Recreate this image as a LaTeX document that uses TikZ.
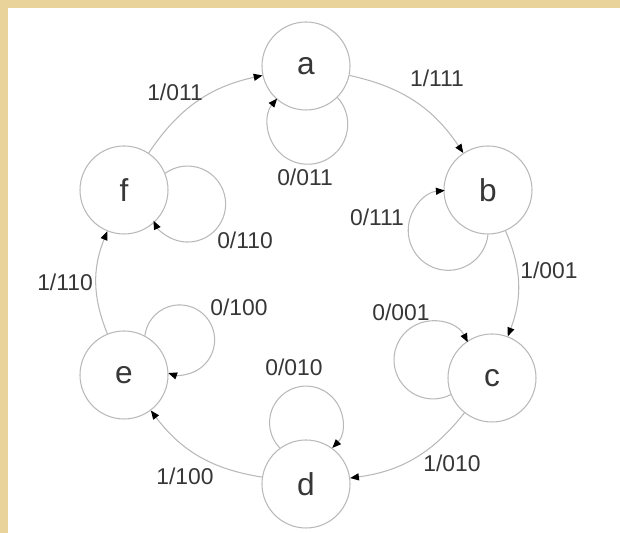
\documentclass[tikz,border=0pt]{standalone}
\usepackage{fontspec}
\setmainfont{Liberation Sans}
\usetikzlibrary{arrows.meta}
\definecolor{parch}{RGB}{233,211,155}
\definecolor{linegray}{RGB}{185,185,185}
\definecolor{inkgray}{RGB}{55,55,55}
\tikzset{
  fsmstate/.style={circle, draw=linegray, line width=0.6pt, minimum size=1.76cm,
    inner sep=0pt, text=inkgray, font=\fontsize{18}{20}\selectfont},
  trans/.style={draw=linegray, line width=0.6pt,
    -{Triangle[length=5pt,width=4pt,color=black]}},
  lbl/.style={text=inkgray, font=\fontsize{13}{15}\selectfont, inner sep=0pt}
}

\begin{document}
\begin{tikzpicture}
  % background
  \fill[parch] (0,0) rectangle (12.4,10.66);
  \fill[white] (0.16,0) rectangle (12.4,10.50);
  \useasboundingbox (0,0) rectangle (12.4,10.66);

  % states
  \node[fsmstate] (a) at (6.12,9.34) {a};
  \node[fsmstate] (b) at (9.76,6.86) {b};
  \node[fsmstate] (c) at (9.84,3.10) {c};
  \node[fsmstate] (d) at (6.12,0.98) {d};
  \node[fsmstate] (e) at (2.48,3.16) {e};
  \node[fsmstate] (f) at (2.48,6.86) {f};

  % input 1
  \draw[trans] (a) to[bend left=22] (b);
  \draw[trans] (b) to[bend left=22] (c);
  \draw[trans] (c) to[bend left=22] (d);
  \draw[trans] (d) to[bend left=22] (e);
  \draw[trans] (e) to[bend left=22] (f);
  \draw[trans] (f) to[bend left=22] (a);

  % input 0
  \draw[trans] (a.-45) arc[start angle=42, delta angle=-262, radius=0.8];
  \draw[trans] (b.-90) arc[start angle=-6, delta angle=-259, radius=0.8];
  \draw[trans] (c.202) arc[start angle=-63, delta angle=-270, radius=0.78];
  \draw[trans] (d.126) arc[start angle=-136, delta angle=-268, radius=0.73];
  \draw[trans] (e.62) arc[start angle=173, delta angle=-282, radius=0.7];
  \draw[trans] (f.22) arc[start angle=126, delta angle=-280, radius=0.76];

  % labels
  \node[lbl] (ab) at (8.74,9.10) {1/111};
  \node[lbl] (bc) at (10.98,5.26) {1/001};
  \node[lbl] (cd) at (9.04,1.40) {1/010};
  \node[lbl] (de) at (3.70,1.14) {1/100};
  \node[lbl] (ef) at (1.30,5.02) {1/110};
  \node[lbl] (fa) at (3.50,8.82) {1/011};
  \node[lbl] (aa) at (6.10,7.12) {0/011};
  \node[lbl] (bb) at (7.54,6.32) {0/111};
  \node[lbl] (cc) at (8.02,4.42) {0/001};
  \node[lbl] (dd) at (5.88,3.32) {0/010};
  \node[lbl] (ee) at (4.78,4.52) {0/100};
  \node[lbl] (ff) at (4.90,5.86) {0/110};
\end{tikzpicture}
\end{document}
